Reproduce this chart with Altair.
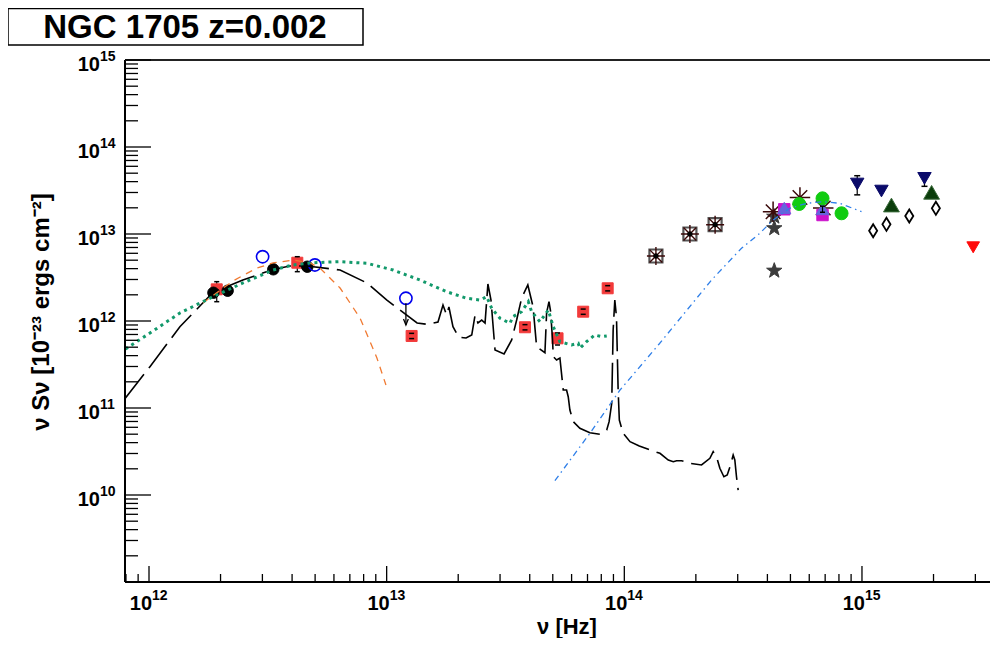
import altair as alt
import pandas as pd

# ---------------- data (log10 values) ----------------
# black filled circles
blk_lognu = [12.271, 12.331, 12.523, 12.666]
blk_logf = [12.325, 12.348, 12.594, 12.624]

# red filled squares with error bars
red_lognu = [12.285, 12.624, 13.105, 13.582, 13.719, 13.827, 13.930]
red_logf = [12.364, 12.670, 11.828, 11.928, 11.801, 12.107, 12.376]
red_logf_hi = [12.452, 12.739, 11.858, 11.958, 11.862, 12.137, 12.406]
red_logf_lo = [12.222, 12.567, 11.798, 11.898, 11.724, 12.077, 12.346]

# blue open circles
bo_lognu = [12.478, 12.698, 13.081]
bo_logf = [12.739, 12.644, 12.261]
# upper-limit arrow
ul_lognu = [13.081]
ul_logf_top = [12.204]
ul_logf_bot = [11.954]

# square+asterisk markers
sqa_lognu = [14.133, 14.276, 14.382]
sqa_logf = [12.747, 13.000, 13.107]

# asterisks
ast_lognu = [14.626, 14.739, 14.837]
ast_logf = [13.256, 13.420, 13.299]

# dark grey stars
star_lognu = [14.631, 14.631, 14.631]
star_logf = [13.199, 13.066, 12.578]

# magenta squares
mag_lognu = [14.673, 14.834]
mag_logf = [13.284, 13.218]

# slate-blue triangles
sl_lognu = [14.673, 14.834]
sl_logf = [13.299, 13.287]
sl_logf_hi = [13.299, 13.32]
sl_logf_lo = [13.299, 13.25]

# green circles
gc_lognu = [14.736, 14.834, 14.914]
gc_logf = [13.345, 13.410, 13.238]

# navy inverted triangles
nv_lognu = [14.980, 15.082, 15.263]
nv_logf = [13.575, 13.494, 13.640]
nv_logf_hi = [13.670, 13.494, 13.660]
nv_logf_lo = [13.450, 13.494, 13.548]

# dark green triangles
dg_lognu = [15.124, 15.293]
dg_logf = [13.333, 13.479]

# open diamonds
dm_lognu = [15.047, 15.103, 15.199, 15.311]
dm_logf = [13.038, 13.111, 13.207, 13.295]

# red inverted triangle
rt_lognu = [15.468]
rt_logf = [12.847]

# model: black long dashed (dust + PAH + stellar)
mod_lognu = [11.901, 12.004, 12.130, 12.269, 12.395, 12.522, 12.593, 12.665, 12.804, 12.917,
             13.001, 13.128, 13.170, 13.216, 13.237, 13.252, 13.262, 13.279, 13.304, 13.334,
             13.358, 13.372, 13.384, 13.400, 13.414, 13.426, 13.439, 13.456, 13.494, 13.526,
             13.547, 13.568, 13.594, 13.616, 13.631, 13.666, 13.673, 13.683, 13.690, 13.698,
             13.701, 13.715, 13.729, 13.743, 13.757, 13.764, 13.771, 13.785, 13.813, 13.855,
             13.897, 13.926, 13.936, 13.947, 13.953, 13.960, 13.967, 13.974, 13.979, 13.995,
             14.024, 14.063, 14.101, 14.150, 14.185, 14.206, 14.220, 14.241, 14.276, 14.325,
             14.360, 14.374, 14.388, 14.402, 14.419, 14.433, 14.447, 14.458, 14.465, 14.472,
             14.479]
mod_logf = [11.115, 11.475, 11.934, 12.328, 12.471, 12.592, 12.632, 12.632, 12.586, 12.437,
            12.241, 11.977, 11.962, 11.989, 12.184, 12.069, 12.161, 11.934, 11.813, 11.805,
            11.839, 12.069, 11.977, 12.011, 11.977, 12.425, 12.241, 11.667, 11.621, 11.782,
            12.011, 12.264, 12.414, 12.164, 11.705, 11.636, 12.095, 12.222, 12.107, 11.782,
            11.590, 11.552, 11.575, 11.207, 11.207, 11.130, 10.977, 10.843, 10.767, 10.716,
            10.698, 10.747, 10.843, 11.054, 11.897, 12.241, 12.046, 11.207, 10.862, 10.709,
            10.613, 10.563, 10.525, 10.479, 10.402, 10.383, 10.394, 10.394, 10.364, 10.345,
            10.422, 10.498, 10.440, 10.307, 10.210, 10.230, 10.345, 10.460, 10.402, 10.210,
            10.057]

# orange short dashed (cold dust)
or_lognu = [12.227, 12.353, 12.454, 12.522, 12.606, 12.677, 12.719, 12.804, 12.888, 12.959, 12.997]
or_logf = [12.207, 12.460, 12.609, 12.667, 12.701, 12.667, 12.609, 12.379, 12.034, 11.575, 11.264]

# green dotted template
gr_lognu = [11.901, 12.004, 12.130, 12.269, 12.395, 12.522, 12.606, 12.690, 12.804, 12.917,
            13.027, 13.140, 13.252, 13.337, 13.393, 13.421, 13.442, 13.477, 13.519, 13.531,
            13.568, 13.596, 13.610, 13.645, 13.680, 13.701, 13.729, 13.778, 13.806, 13.813,
            13.841, 13.876, 13.905, 13.926]
gr_logf = [11.678, 11.862, 12.092, 12.279, 12.437, 12.586, 12.644, 12.670, 12.682, 12.663,
           12.586, 12.471, 12.337, 12.261, 12.241, 12.279, 12.146, 12.031, 11.974, 12.050,
           12.107, 12.222, 12.107, 11.992, 12.126, 11.934, 11.762, 11.724, 11.744, 11.686,
           11.762, 11.839, 11.820, 11.828]

# blue dash-dot (stellar)
bl_lognu = [13.708, 13.855, 13.982, 14.143, 14.367, 14.493, 14.570, 14.626, 14.696, 14.767,
            14.837, 14.907, 14.998]
bl_logf = [10.164, 10.709, 11.207, 11.724, 12.471, 12.836, 13.008, 13.161, 13.295, 13.353,
           13.371, 13.353, 13.256]

# axis decades
x_decades = [12, 13, 14, 15]
y_decades = [10, 11, 12, 13, 14, 15]

# ---------------- helpers ----------------
W, H = 865, 522
xscale = alt.Scale(type="log", domain=[7.925e11, 3.457e15], nice=False, zero=False)
yscale = alt.Scale(type="log", domain=[1e9, 1e15], nice=False, zero=False)


def df(lognu, logf, **extra):
    d = {"nu": [10 ** v for v in lognu], "f": [10 ** v for v in logf], "i": list(range(len(lognu)))}
    for k, v in extra.items():
        d[k] = [10 ** t for t in v]
    return pd.DataFrame(d)


def X(field="nu"):
    return alt.X(f"{field}:Q", scale=xscale, axis=None)


def Y(field="f"):
    return alt.Y(f"{field}:Q", scale=yscale, axis=None)


def points(data, shape, size, fill=None, stroke=None, sw=1.0):
    kw = dict(shape=shape, size=size, opacity=1, strokeWidth=sw)
    if fill is not None:
        kw["filled"] = True
        kw["fill"] = fill
        kw["fillOpacity"] = 1
        kw["stroke"] = stroke if stroke is not None else fill
    else:
        kw["filled"] = False
        kw["fill"] = "transparent"
        kw["stroke"] = stroke
    return alt.Chart(data).mark_point(**kw).encode(x=X(), y=Y())


def errbars(data, color="black", cap=6):
    r = alt.Chart(data).mark_rule(color=color, strokeWidth=1.2).encode(x=X(), y=Y("hi"), y2="lo:Q")
    c1 = alt.Chart(data).mark_point(shape="stroke", size=cap * cap, stroke=color, strokeWidth=1.5,
                                    opacity=1).encode(x=X(), y=Y("hi"))
    c2 = alt.Chart(data).mark_point(shape="stroke", size=cap * cap, stroke=color, strokeWidth=1.5,
                                    opacity=1).encode(x=X(), y=Y("lo"))
    return [r, c1, c2]


def line(data, color, dash, sw):
    return alt.Chart(data).mark_line(color=color, strokeDash=dash, strokeWidth=sw, clip=True,
                                     strokeCap="butt").encode(x=X(), y=Y(), order="i:Q")


STAR = ("M0,-1L0.235,-0.324L0.951,-0.309L0.380,0.124L0.588,0.809L0,0.4L-0.588,0.809"
        "L-0.380,0.124L-0.951,-0.309L-0.235,-0.324Z")
SPOKES = "M-1,0L1,0M0,-1L0,1M-0.71,-0.71L0.71,0.71M-0.71,0.71L0.71,-0.71"
DIAM = "M0,-1L0.62,0L0,1L-0.62,0Z"
ARROW = "M-0.6,-1.5L0,0L0.6,-1.5"

layers = []
one = pd.DataFrame({"a": [0]})

# ----- markers -----
red = df(red_lognu, red_logf, hi=red_logf_hi, lo=red_logf_lo)
layers += [alt.Chart(red.iloc[:2]).mark_rule(color="black", strokeWidth=1.2).encode(x=X(), y=Y("hi"), y2="lo:Q")]
layers.append(points(red, "square", 121, fill="#f23a3a"))
c = errbars(red, cap=5)
layers += c[1:]
layers.append(points(df(blk_lognu, blk_logf), "circle", 130, fill="black"))
layers.append(points(df(bo_lognu, bo_logf), "circle", 150, stroke="#0000ee", sw=1.6))
ul = df(ul_lognu, ul_logf_top, bot=ul_logf_bot)
layers.append(alt.Chart(ul).mark_rule(color="black", strokeWidth=1.3).encode(x=X(), y=Y(), y2="bot:Q"))
layers.append(points(df(ul_lognu, ul_logf_bot), ARROW, 64, stroke="black", sw=1.3))

sqa = df(sqa_lognu, sqa_logf)
layers.append(points(sqa, "square", 169, stroke="#555555", sw=2.2))
layers.append(points(sqa, SPOKES, 324, stroke="#3a0808", sw=1.4))
layers.append(points(sqa, "circle", 20, fill="black"))

layers.append(points(df(star_lognu, star_logf), STAR, 260, fill="#3c3c3c"))
layers.append(points(df(ast_lognu, ast_logf), SPOKES, 420, stroke="#3a0a0a", sw=1.5))
layers.append(points(df(mag_lognu, mag_logf), "square", 130, fill="#cc11cc"))
sl = df(sl_lognu, sl_logf, hi=sl_logf_hi, lo=sl_logf_lo)
layers.append(points(sl, "triangle-up", 170, fill="#6464dc"))
layers += errbars(sl.iloc[1:], cap=5)
gc = df(gc_lognu, gc_logf)
layers.append(points(gc, "circle", 169, fill="#11cc11"))
nv = df(nv_lognu, nv_logf, hi=nv_logf_hi, lo=nv_logf_lo)
layers += errbars(nv, cap=6)
layers.append(points(nv, "triangle-down", 180, fill="#0a0a6a"))
layers.append(points(df(dg_lognu, dg_logf), "triangle-up", 250, fill="#0b3d0b", stroke="#3a6a3a"))
layers.append(points(df(dm_lognu, dm_logf), DIAM, 170, fill="white", stroke="black", sw=1.8))
layers.append(points(df(rt_lognu, rt_logf), "triangle-down", 160, fill="#ff0a0a"))

# ----- model curves -----
layers.append(line(df(mod_lognu, mod_logf), "black", [30, 8], 1.6))
layers.append(line(df(or_lognu, or_logf), "#f07a32", [7, 6], 1.3))
layers.append(line(df(gr_lognu, gr_logf), "#12996b", [3, 4], 3))
layers.append(line(df(bl_lognu, bl_logf), "#2f7fe8", [6, 4, 1.5, 4], 1.3))

# ----- frame & ticks -----
layers.append(alt.Chart(one).mark_rule(color="black", strokeWidth=2).encode(
    x=alt.value(0), y=alt.value(0), y2=alt.value(H)))
layers.append(alt.Chart(one).mark_rule(color="black", strokeWidth=2).encode(
    x=alt.value(0), x2=alt.value(W), y=alt.value(H)))
layers.append(alt.Chart(one).mark_rule(color="#222222", strokeWidth=2).encode(
    x=alt.value(0), x2=alt.value(W), y=alt.value(0)))

y_major = pd.DataFrame({"v": [10.0 ** e for e in range(9, 16)]})
y_minor = pd.DataFrame({"v": [k * 10.0 ** e for e in range(9, 15) for k in range(2, 10)]})
x_major = pd.DataFrame({"v": [10.0 ** e for e in x_decades]})
x_minor = pd.DataFrame({"v": [8e11, 9e11] + [k * 10.0 ** e for e in (12, 13, 14) for k in range(2, 10)] + [2e15, 3e15]})

layers.append(alt.Chart(y_major).mark_rule(color="black", strokeWidth=1.3).encode(
    y=Y("v"), x=alt.value(0), x2=alt.value(26)))
layers.append(alt.Chart(y_minor).mark_rule(color="black", strokeWidth=1.3).encode(
    y=Y("v"), x=alt.value(0), x2=alt.value(13)))
layers.append(alt.Chart(x_major).mark_rule(color="black", strokeWidth=1.3).encode(
    x=X("v"), y=alt.value(H), y2=alt.value(H - 16)))
layers.append(alt.Chart(x_minor).mark_rule(color="black", strokeWidth=1.3).encode(
    x=X("v"), y=alt.value(H), y2=alt.value(H - 8)))

# ----- tick labels -----
FONT = "Liberation Sans"
ylab = pd.DataFrame({"v": [10.0 ** e for e in y_decades], "e": [str(e) for e in y_decades]})
layers.append(alt.Chart(ylab).mark_text(font=FONT, fontWeight="bold", fontSize=20, align="right",
                                         baseline="middle", dy=5).encode(
    y=Y("v"), x=alt.value(-25), text=alt.value("10")))
layers.append(alt.Chart(ylab).mark_text(font=FONT, fontWeight="bold", fontSize=14, align="left",
                                         baseline="middle", dy=-3).encode(
    y=Y("v"), x=alt.value(-25), text="e:N"))
xlab = pd.DataFrame({"v": [10.0 ** e for e in x_decades], "e": [str(e) for e in x_decades]})
layers.append(alt.Chart(xlab).mark_text(font=FONT, fontWeight="bold", fontSize=20, align="right",
                                         baseline="middle", dx=3).encode(
    x=X("v"), y=alt.value(H + 22), text=alt.value("10")))
layers.append(alt.Chart(xlab).mark_text(font=FONT, fontWeight="bold", fontSize=14, align="left",
                                         baseline="middle", dx=3).encode(
    x=X("v"), y=alt.value(H + 14), text="e:N"))

# ----- axis titles -----
layers.append(alt.Chart(one).mark_text(font=FONT, fontWeight="bold", fontSize=22, align="center",
                                        baseline="middle").encode(
    x=alt.value(442), y=alt.value(567), text=alt.value("ν [Hz]")))
layers.append(alt.Chart(one).mark_text(font=FONT, fontWeight="bold", fontSize=24, align="center",
                                        baseline="middle", angle=270).encode(
    x=alt.value(-83), y=alt.value(252), text=alt.value("ν Sν [10⁻²³ ergs cm⁻²]")))

# ----- title box -----
layers.append(alt.Chart(one).mark_rect(fill="white", stroke="black", strokeWidth=1.5).encode(
    x=alt.value(-117), x2=alt.value(238), y=alt.value(-51.5), y2=alt.value(-15)))
layers.append(alt.Chart(one).mark_text(font=FONT, fontWeight="bold", fontSize=33, align="center",
                                        baseline="middle").encode(
    x=alt.value(60), y=alt.value(-32), text=alt.value("NGC 1705 z=0.002")))

chart = alt.layer(*layers).properties(
    width=W, height=H,
    autosize=alt.AutoSizeParams(type="none"),
    padding={"left": 117, "top": 52, "right": 0, "bottom": 56},
).configure_view(stroke=None)

chart.save("out.html", embed_options={"renderer": "svg", "actions": False})
